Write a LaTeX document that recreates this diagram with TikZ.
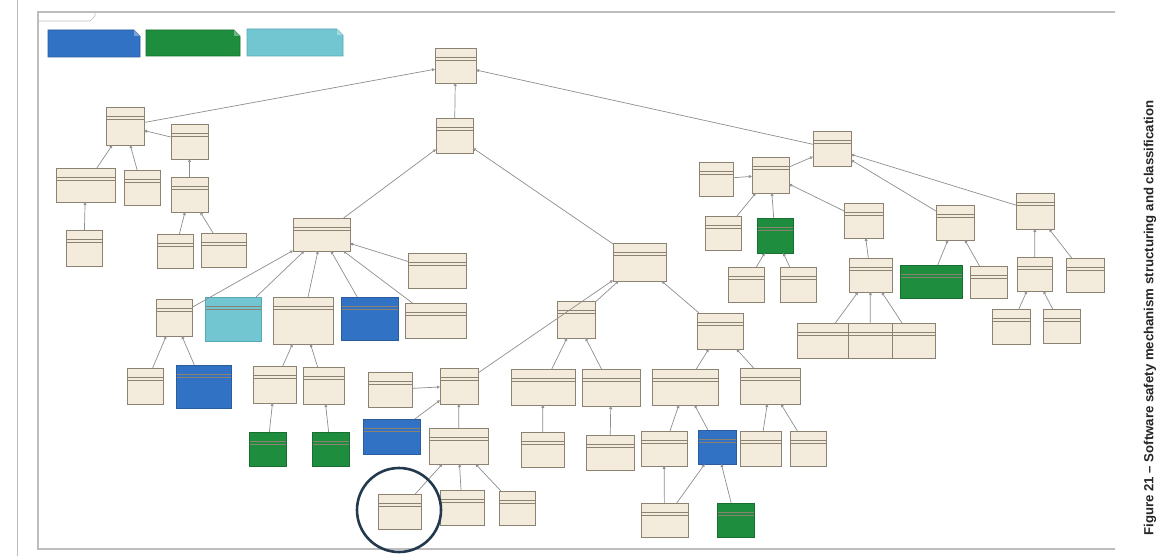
\documentclass[tikz,border=0pt]{standalone}
\usepackage{fontspec}
\setmainfont{Liberation Sans}
\usetikzlibrary{arrows.meta}
\definecolor{beige}{HTML}{F3EBDC}
\definecolor{bline}{HTML}{8C8272}
\definecolor{bluefill}{HTML}{3272C4}
\definecolor{blueline}{HTML}{2A5C9E}
\definecolor{greenfill}{HTML}{1E8E3E}
\definecolor{greenline}{HTML}{17702F}
\definecolor{cyanfill}{HTML}{72C6D2}
\definecolor{cyanline}{HTML}{58A9B5}
\definecolor{edgec}{HTML}{8E8E8E}
\definecolor{framec}{HTML}{BDBDBD}
\definecolor{navy}{HTML}{233A4E}
\newcommand\cb[6][cls]{\node[#1,minimum width={(#5-#3)*1pt},minimum height={(#6-#4)*1pt}] (#2) at ({(#3+#5)/2},{(#4+#6)/2}) {};}
\newcommand\legendnote[6]{\fill[#5] (#1,#2) -- ({#3-6},#2) -- (#3,{#2+6}) -- (#3,#4) -- (#1,#4) -- cycle;
  \draw[#6,line width=.6pt] (#1,#2) -- ({#3-6},#2) -- (#3,{#2+6}) -- (#3,#4) -- (#1,#4) -- cycle;
  \fill[white,opacity=.35] ({#3-6},#2) -- ({#3-6},{#2+6}) -- (#3,{#2+6}) -- cycle;}
\begin{document}
\begin{tikzpicture}[x=1pt,y=-1pt,
  cls/.style={draw=bline,fill=beige,line width=.7pt,inner sep=0pt,outer sep=0pt,
    path picture={\draw[bline,line width=.4pt] ([yshift=-9pt]path picture bounding box.north west) -- ([yshift=-9pt]path picture bounding box.north east);
    \draw[bline,line width=.3pt] ([yshift=-12pt]path picture bounding box.north west) -- ([yshift=-12pt]path picture bounding box.north east);}},
  blu/.style={cls,draw=blueline,fill=bluefill},
  grn/.style={cls,draw=greenline,fill=greenfill},
  cyn/.style={cls,draw=cyanline,fill=cyanfill},
  edge/.style={draw=edgec,line width=.7pt,-{Triangle[open,length=3pt,width=3pt]}},
]
\useasboundingbox (0,0) rectangle (1164,556);
\fill[white] (0,0) rectangle (1164,556);
% frames
\draw[framec,line width=.8pt] (17,0) -- (17,556);
\draw[framec,line width=1.8pt] (1115,12) -- (38,12) -- (38,549) -- (1115,549);
\draw[framec,line width=.6pt] (38,21) -- (90,21) -- (95,16) -- (95,12);
% legend
\legendnote{48}{30}{140}{57}{bluefill}{blueline}
\legendnote{146}{30}{240}{56}{greenfill}{greenline}
\legendnote{247}{29}{343}{56}{cyanfill}{cyanline}
% nodes
\cb{R}{435}{48}{476}{83}
\cb{A}{436}{118}{473}{153}
\cb{L1}{106}{107}{144}{145}
\cb{L1b}{171}{124}{208}{159}
\cb{L1a1}{56}{168}{115}{202}
\cb{L1a2}{124}{170}{160}{205}
\cb{L1a1c}{66}{230}{102}{266}
\cb{L1bc}{171}{177}{208}{212}
\cb{L1bc1}{157}{234}{193}{268}
\cb{L1bc2}{201}{233}{246}{267}
\cb{B}{293}{218}{350}{251}
\cb{B5}{408}{253}{466}{288}
\cb{C1}{156}{299}{192}{336}
\cb[cyn]{C2}{205}{297}{261}{341}
\cb{C3}{273}{297}{333}{344}
\cb[blu]{C4}{341}{297}{398}{340}
\cb{C5}{405}{303}{466}{338}
\cb{D1}{127}{368}{163}{404}
\cb[blu]{D2}{176}{365}{231}{408}
\cb{D3}{253}{366}{296}{403}
\cb{D4}{303}{367}{344}{404}
\cb[grn]{E1}{249}{432}{286}{466}
\cb[grn]{E2}{312}{432}{349}{466}
\cb{F}{613}{243}{666}{281}
\cb{G}{440}{368}{478}{404}
\cb{G1}{368}{372}{412}{407}
\cb[blu]{G2}{363}{419}{420}{454}
\cb{H}{429}{428}{488}{464}
\cb{I1}{378}{494}{421}{529}
\cb{I2}{440}{490}{484}{525}
\cb{I3}{499}{491}{535}{525}
\cb{J1}{557}{301}{595}{338}
\cb{J2}{697}{313}{743}{349}
\cb{K1}{511}{369}{575}{405}
\cb{K2}{582}{369}{640}{406}
\cb{K1c}{521}{432}{564}{467}
\cb{K2c}{586}{435}{634}{470}
\cb{M1}{652}{369}{718}{405}
\cb{M2}{740}{368}{800}{404}
\cb{N1}{641}{431}{687}{466}
\cb[blu]{N2}{698}{430}{736}{464}
\cb{N3}{740}{431}{781}{466}
\cb{N4}{790}{431}{826}{466}
\cb{O1}{641}{503}{688}{537}
\cb[grn]{O2}{717}{503}{754}{537}
\cb{P}{813}{131}{851}{166}
\cb{Q1}{752}{157}{789}{193}
\cb{Q1L}{699}{162}{733}{196}
\cb{Q1a}{705}{216}{741}{250}
\cb[grn]{Q1b}{757}{218}{793}{253}
\cb{Q1c}{844}{203}{883}{238}
\cb{R1}{728}{267}{764}{302}
\cb{R2}{780}{267}{816}{302}
\cb{S}{849}{258}{892}{292}
\cb{S1}{797}{323}{848}{358}
\cb{S2}{848}{323}{892}{358}
\cb{S3}{892}{323}{935}{358}
\cb{Q2}{936}{205}{974}{240}
\cb[grn]{T1}{900}{265}{962}{298}
\cb{T2}{970}{266}{1007}{298}
\cb{Q3}{1016}{193}{1054}{229}
\cb{U1}{1017}{257}{1052}{291}
\cb{U2}{1066}{258}{1104}{292}
\cb{V1}{992}{309}{1030}{344}
\cb{V2}{1043}{309}{1080}{343}
% edges
\foreach \c/\p in {A/R,L1/R,P/R,L1b/L1,L1a1/L1,L1a2/L1,L1a1c/L1a1,L1bc/L1b,L1bc1/L1bc,L1bc2/L1bc,
  B/A,F/A,B5/B,C1/B,C2/B,C3/B,C4/B,C5/B,D1/C1,D2/C1,D3/C3,D4/C3,E1/D3,E2/D4,
  G/F,G1/G,G2/G,H/G,I1/H,I2/H,I3/H,J1/F,J2/F,K1/J1,K2/J1,K1c/K1,K2c/K2,
  M1/J2,M2/J2,N1/M1,N2/M1,N3/M2,N4/M2,O1/N1,O1/N2,O2/N2,
  Q1/P,Q2/P,Q3/P,Q1L/Q1,Q1a/Q1,Q1b/Q1,Q1c/Q1,R1/Q1b,R2/Q1b,S/Q1c,S1/S,S2/S,S3/S,
  T1/Q2,T2/Q2,U1/Q3,U2/Q3,V1/U1,V2/U1}
  {\draw[edge] (\c) -- (\p);}
% highlight circle
\draw[navy,line width=2.6pt] (399,510) circle [radius=42pt];
% caption
\node[rotate=90,font=\bfseries,inner sep=0pt,text=black!85] (cap) at (1150,318)
  {\resizebox{435pt}{!}{Figure 21 – Software safety mechanism structuring and classification}};
\end{tikzpicture}
\end{document}
